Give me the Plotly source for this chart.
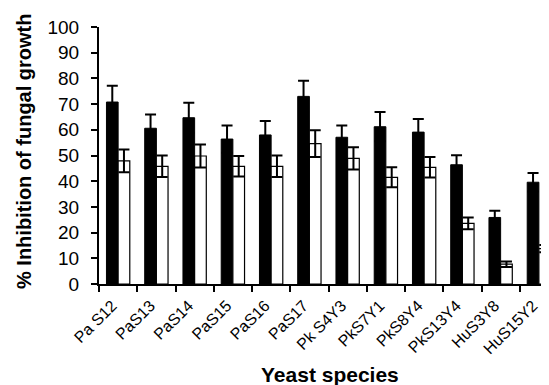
import plotly.graph_objects as go

categories = ["Pa S12", "PaS13", "PaS14", "PaS15", "PaS16", "PaS17", "Pk S4Y3",
              "PkS7Y1", "PkS8Y4", "PkS13Y4", "HuS3Y8", "HuS15Y2"]
black_vals = [70.8, 60.6, 64.7, 56.4, 58.0, 73.0, 57.1, 61.2, 59.1, 46.4, 25.9, 39.6]
black_err = [6.3, 5.4, 5.8, 5.3, 5.4, 6.1, 4.6, 5.7, 5.1, 3.7, 2.6, 3.6]
white_vals = [47.9, 45.8, 49.8, 45.8, 45.8, 54.6, 48.9, 41.5, 45.4, 23.6, 7.7, 13.8]
white_err = [4.4, 4.2, 4.5, 4.0, 4.2, 5.2, 4.3, 3.9, 4.0, 2.3, 1.1, 1.4]
y_ticks = [0, 10, 20, 30, 40, 50, 60, 70, 80, 90, 100]

FONT = "Liberation Sans, Arial, sans-serif"

fig = go.Figure()
fig.add_trace(go.Bar(
    x=categories, y=black_vals, marker=dict(color="black", line=dict(color="black", width=1)),
    error_y=dict(type="data", array=black_err, color="black", thickness=2, width=5.5),
    showlegend=False))
fig.add_trace(go.Bar(
    x=categories, y=white_vals, marker=dict(color="white", line=dict(color="black", width=1.2)),
    error_y=dict(type="data", array=white_err, color="black", thickness=2, width=5.5),
    showlegend=False))

# page body has an 8px margin, so the figure is offset by 8px in the window
OFF = 8
L, R, T, B = 99 - OFF, 0, 27 - OFF, 101
W, H = 549 - OFF, 385 - OFF
pw = W - L - R
ph = H - T - B
cat_w = 38.25

fig.update_layout(
    width=W, height=H,
    margin=dict(l=L, r=R, t=T, b=B, pad=0),
    paper_bgcolor="white", plot_bgcolor="white",
    barmode="group", bargap=0.39, bargroupgap=0,
    font=dict(family=FONT, color="black"),
    xaxis=dict(
        type="category", range=[-0.5, -0.5 + pw / cat_w],
        showline=True, linecolor="black", linewidth=2,
        ticks="outside", tickson="boundaries", ticklen=6, tickwidth=2, tickcolor="black",
        tickangle=-45, tickfont=dict(size=16, family=FONT, color="black"),
        ticklabelshift=-6, ticklabelstandoff=4,
        showgrid=False, zeroline=False, automargin=False),
    yaxis=dict(
        range=[0, 100], tickvals=y_ticks,
        showline=True, linecolor="black", linewidth=2,
        ticks="outside", ticklen=6, tickwidth=2, tickcolor="black",
        tickfont=dict(size=19, family=FONT, color="black"),
        ticklabelstandoff=8,
        showgrid=False, zeroline=False, automargin=False),
    annotations=[
        dict(text="<b>% Inhibition of fungal growth</b>", textangle=-90,
             xref="paper", yref="paper", x=(24 - 99) / pw, y=(284 - 151) / ph,
             xanchor="center", yanchor="middle", showarrow=False,
             font=dict(size=20, family=FONT, color="black")),
        dict(text="<b>Yeast species</b>",
             xref="paper", yref="paper", x=(330 - 99) / pw, y=(284 - 374) / ph,
             xanchor="center", yanchor="middle", showarrow=False,
             font=dict(size=21, family=FONT, color="black")),
    ],
)

fig.write_html("out.html")
